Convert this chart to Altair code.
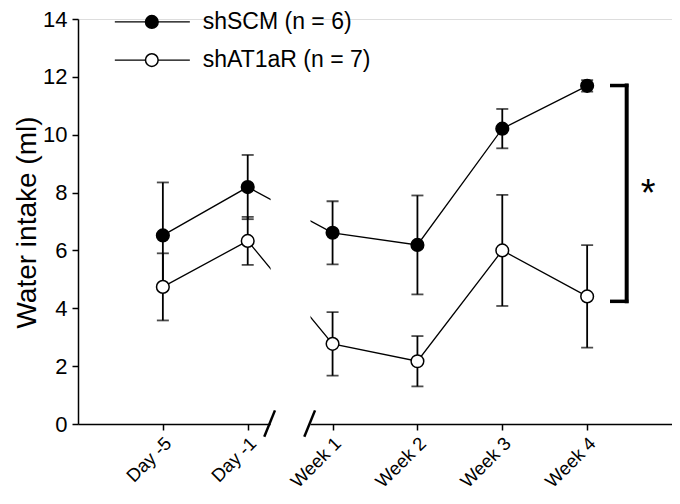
import json
import altair as alt
import pandas as pd

# ---------------- data ----------------
time_labels = ["Day -5", "Day -1", "Week 1", "Week 2", "Week 3", "Week 4"]
time_pos = [0, 1, 2, 3, 4, 5]
groups = ["shSCM (n = 6)", "shAT1aR (n = 7)"]
scm_mean = [6.52, 8.19, 6.61, 6.19, 10.21, 11.69]
scm_sem = [1.83, 1.11, 1.09, 1.71, 0.68, 0.20]
at1_mean = [4.74, 6.33, 2.77, 2.17, 6.00, 4.41]
at1_sem = [1.16, 0.83, 1.10, 0.87, 1.92, 1.77]
y_ticks = [0, 2, 4, 6, 8, 10, 12, 14]

# axis break (in x-index units)
gap_x = [1.27, 1.74]
slash_x1 = [1.195, 1.667]
slash_x2 = [1.321, 1.793]
slash_y = [-0.44, 0.47]

# significance bracket
bracket_x = 5.466
bracket_arm_x = 5.29
bracket_y = [4.24, 11.70]
star_pos = [5.72, 8.13]

# legend placement (data units)
legend_line_x = [-0.566, 0.318]
legend_pt_x = -0.13
legend_text_x = 0.47
legend_y = [13.90, 12.58]

FONT = "Liberation Sans"

# ---------------- frames ----------------
rows = []
for g, means, sems in [(groups[0], scm_mean, scm_sem), (groups[1], at1_mean, at1_sem)]:
    for t, m, s in zip(time_pos, means, sems):
        rows.append({"group": g, "t": t, "mean": m, "lo": m - s, "hi": m + s})
df = pd.DataFrame(rows)
caps = pd.concat([
    df[["group", "t", "lo"]].rename(columns={"lo": "v"}),
    df[["group", "t", "hi"]].rename(columns={"hi": "v"}),
])

gap_df = pd.DataFrame({"x": [gap_x[0]], "x2": [gap_x[1]], "y": [-0.15], "y2": [14.0]})
slash_df = pd.DataFrame({"x": slash_x1, "x2": slash_x2, "y": [slash_y[0]] * 2, "y2": [slash_y[1]] * 2})
brk_v = pd.DataFrame({"x": [bracket_x], "y": [bracket_y[0]], "y2": [bracket_y[1]]})
brk_h = pd.DataFrame({"x": [bracket_arm_x] * 2, "x2": [bracket_x] * 2, "y": bracket_y})
star_df = pd.DataFrame({"x": [star_pos[0]], "y": [star_pos[1]], "s": ["*"]})
leg_df = pd.DataFrame({
    "group": groups,
    "x1": [legend_line_x[0]] * 2,
    "x2": [legend_line_x[1]] * 2,
    "px": [legend_pt_x] * 2,
    "tx": [legend_text_x] * 2,
    "y": legend_y,
})

# ---------------- encodings ----------------
xscale = alt.Scale(domain=[-1, 6], nice=False, zero=False)
yscale = alt.Scale(domain=[0, 14], nice=False)
xaxis = alt.Axis(
    values=time_pos,
    labelExpr=json.dumps(time_labels) + "[datum.value]",
    title=None, grid=False,
    labelAngle=-45, labelAlign="right", labelBaseline="middle",
    labelFontSize=18.5, labelFont=FONT, labelColor="black",
    labelPadding=10, labelOffset=5,
    tickSize=6, tickWidth=1.5, tickColor="black",
    domainColor="black", domainWidth=1.5,
)
yaxis = alt.Axis(
    values=y_ticks, title="Water intake (ml)", grid=False,
    titleFontSize=28, titleFont=FONT, titleFontWeight="normal", titleColor="black",
    titleAngle=-90, titleX=-43, titleY=203, titleAlign="center", titleBaseline="alphabetic",
    labelFontSize=22, labelFont=FONT, labelColor="black", labelPadding=5,
    tickSize=6, tickWidth=1.5, tickColor="black",
    domainColor="black", domainWidth=1.5,
)


def X(f):
    return alt.X(f, type="quantitative", scale=xscale, axis=xaxis)


def Y(f):
    return alt.Y(f, type="quantitative", scale=yscale, axis=yaxis)


fill_enc = alt.Fill("group:N", scale=alt.Scale(domain=groups, range=["black", "white"]), legend=None)

base = alt.Chart(df)
lines = base.mark_line(color="black", strokeWidth=1.3).encode(x=X("t"), y=Y("mean"), detail="group:N")
gap = alt.Chart(gap_df).mark_rect(color="white").encode(x=X("x"), x2="x2", y=Y("y"), y2="y2")
err = base.mark_rule(color="black", strokeWidth=1.8).encode(x=X("t"), y=Y("lo"), y2="hi")
cap = alt.Chart(caps).mark_tick(orient="horizontal", size=12, thickness=1.8, color="black").encode(
    x=X("t"), y=Y("v"))
pts = base.mark_point(shape="circle", size=160, filled=True, opacity=1, stroke="black", strokeWidth=1.5).encode(
    x=X("t"), y=Y("mean"), fill=fill_enc)
slashes = alt.Chart(slash_df).mark_rule(color="black", strokeWidth=2.5).encode(
    x=X("x"), x2="x2", y=Y("y"), y2="y2")
bv = alt.Chart(brk_v).mark_rule(color="black", strokeWidth=4, strokeCap="square").encode(
    x=X("x"), y=Y("y"), y2="y2")
bh = alt.Chart(brk_h).mark_rule(color="black", strokeWidth=3.5, strokeCap="square").encode(
    x=X("x"), x2="x2", y=Y("y"))
star = alt.Chart(star_df).mark_text(fontSize=38, font=FONT, color="black", baseline="middle", dy=6).encode(
    x=X("x"), y=Y("y"), text="s:N")
leg_lines = alt.Chart(leg_df).mark_rule(color="black", strokeWidth=1.3).encode(x=X("x1"), x2="x2", y=Y("y"))
leg_pts = alt.Chart(leg_df).mark_point(shape="circle", size=160, filled=True, opacity=1, stroke="black",
                                        strokeWidth=1.5).encode(x=X("px"), y=Y("y"), fill=fill_enc)
leg_txt = alt.Chart(leg_df).mark_text(fontSize=23, font=FONT, color="black", align="left", baseline="middle").encode(
    x=X("tx"), y=Y("y"), text="group:N")

chart = alt.layer(lines, gap, err, cap, pts, slashes, bv, bh, star, leg_lines, leg_pts, leg_txt).properties(
    width=594, height=405,
    autosize=alt.AutoSizeParams(type="none"),
    padding={"left": 70, "top": 11, "right": 0, "bottom": 72},
).configure_view(stroke=None).configure(font=FONT)

chart.save("out.html", embed_options={"renderer": "svg", "actions": False})
